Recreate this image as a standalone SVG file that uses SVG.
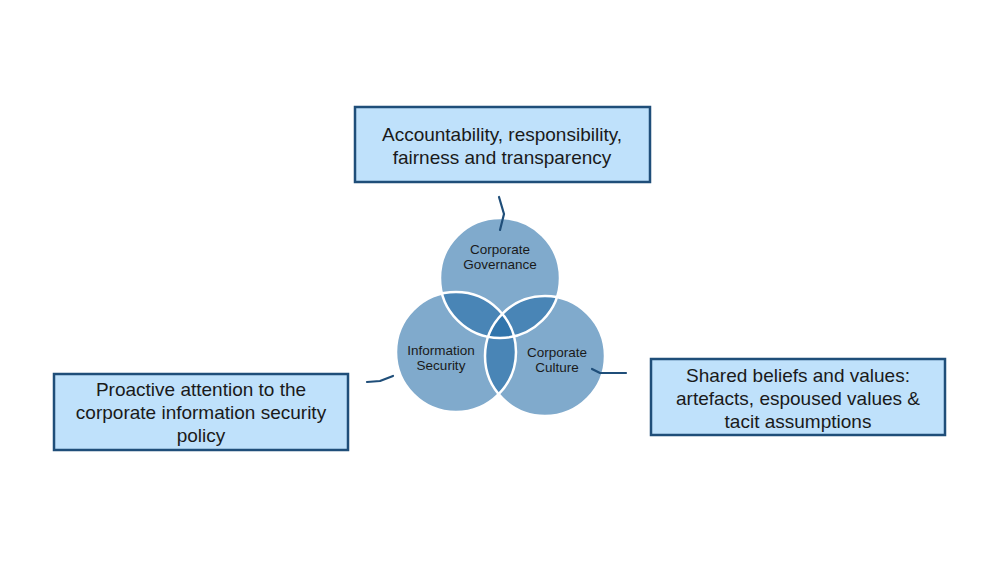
<svg xmlns="http://www.w3.org/2000/svg" width="1000" height="563" viewBox="0 0 1000 563">
<style>
.box{fill:#bfe1fb;stroke:#1f4e79;stroke-width:2.5}
.bt{font-family:"Liberation Sans",Arial,sans-serif;font-size:19px;fill:#1a1a1a;text-anchor:middle}
.circ{fill:#1f6aa6;fill-opacity:0.57}
.ring{fill:none;stroke:#ffffff;stroke-width:2.5}
.ct{font-family:"Liberation Sans",Arial,sans-serif;font-size:13.5px;fill:#1a1a1a;text-anchor:middle}
.con{fill:none;stroke:#1f4e79;stroke-width:2.2;stroke-linejoin:round;stroke-linecap:round}
</style>
<rect width="1000" height="563" fill="#ffffff"/>
<g id="venn">
<g id="node-governance"><circle class="circ" cx="500" cy="278" r="60"/></g>
<g id="node-security"><circle class="circ" cx="456" cy="352" r="60"/></g>
<g id="node-culture"><circle class="circ" cx="545" cy="356" r="60"/></g>
<circle class="ring" cx="500" cy="278" r="60"/>
<circle class="ring" cx="456" cy="352" r="60"/>
<circle class="ring" cx="545" cy="356" r="60"/>
<text class="ct" x="500" y="254">Corporate</text>
<text class="ct" x="500" y="269">Governance</text>
<text class="ct" x="441" y="355">Information</text>
<text class="ct" x="441" y="370">Security</text>
<text class="ct" x="557" y="357">Corporate</text>
<text class="ct" x="557" y="372">Culture</text>
</g>
<g id="connectors">
<path class="con" d="M499,197 L504,214 L500,230"/>
<path class="con" d="M592,369 L600,373 L626,373"/>
<path class="con" d="M367,382 L380,381 L393,376"/>
</g>
<g id="node-top">
<rect class="box" x="355" y="107" width="295" height="75"/>
<text class="bt" x="502" y="141">Accountability, responsibility,</text>
<text class="bt" x="502" y="164">fairness and transparency</text>
</g>
<g id="node-right">
<rect class="box" x="651" y="359" width="294" height="76"/>
<text class="bt" x="798" y="382">Shared beliefs and values:</text>
<text class="bt" x="798" y="405">artefacts, espoused values &amp;</text>
<text class="bt" x="798" y="428">tacit assumptions</text>
</g>
<g id="node-left">
<rect class="box" x="54" y="374" width="294" height="76"/>
<text class="bt" x="201" y="396">Proactive attention to the</text>
<text class="bt" x="201" y="419">corporate information security</text>
<text class="bt" x="201" y="442">policy</text>
</g>
</svg>
